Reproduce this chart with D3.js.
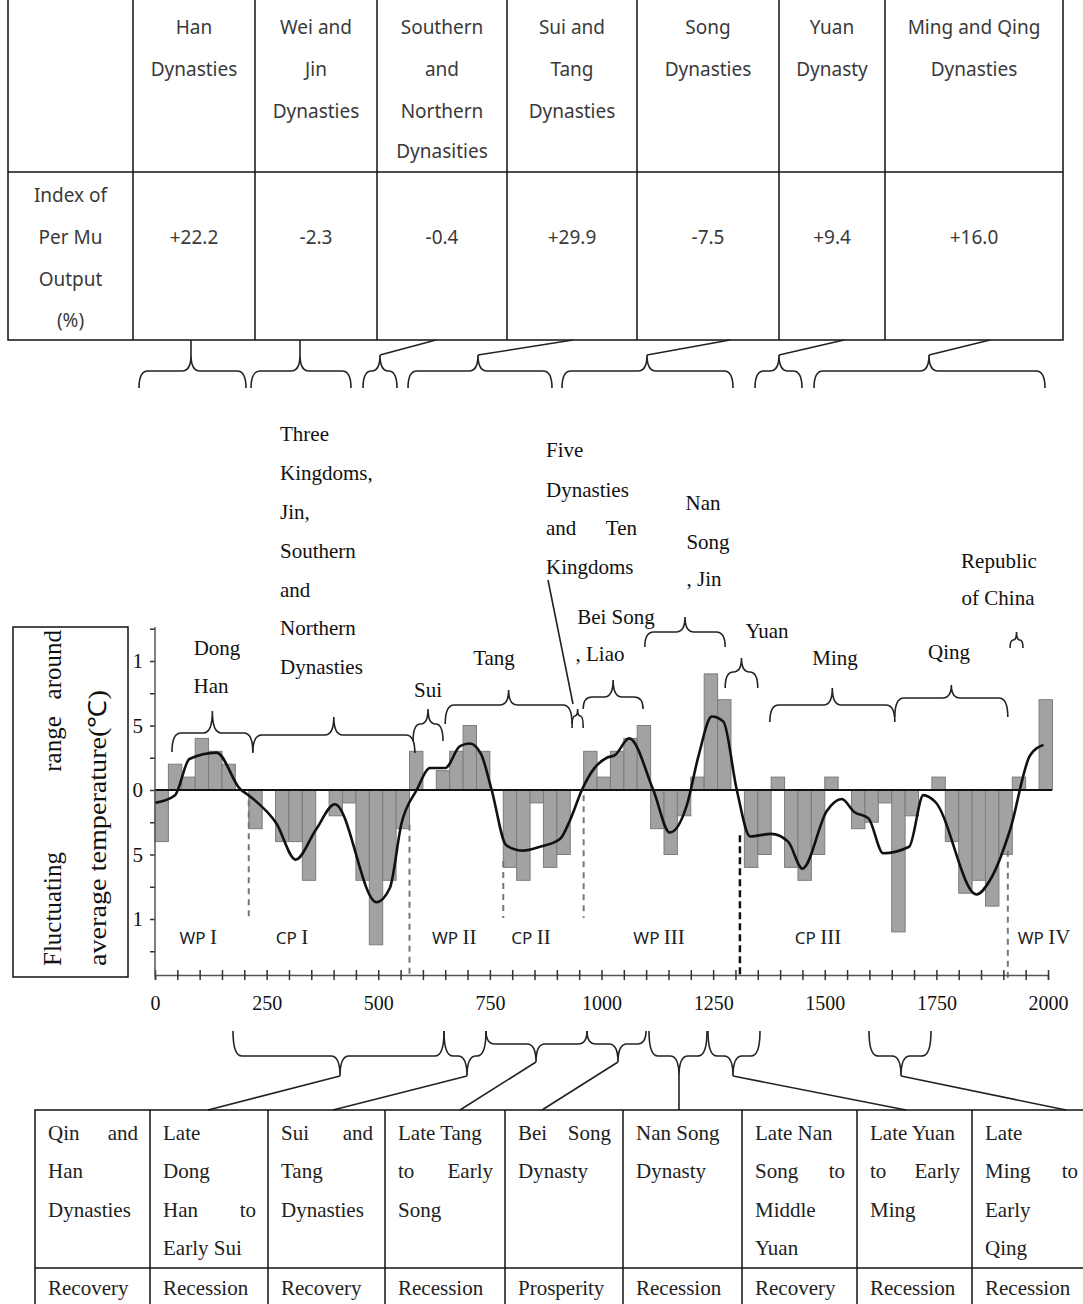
<!DOCTYPE html>
<html><head><meta charset="utf-8">
<script src="https://cdn.jsdelivr.net/npm/d3@7"></script>
<style>body{margin:0;background:#fff}</style>
</head><body>
<svg id="c" width="1083" height="1304"></svg>
<script>
// ---------- DATA ----------
const binStarts = [0,30,60,90,120,150,180,210,240,270,300,330,360,390,420,450,480,510,540,570,600,630,660,690,720,750,780,810,840,870,900,930,960,990,1020,1050,1080,1110,1140,1170,1200,1230,1260,1290,1320,1350,1380,1410,1440,1470,1500,1530,1560,1590,1620,1650,1680,1710,1740,1770,1800,1830,1860,1890,1920,1950,1980];
const barValues = [-0.4,0.2,0.1,0.4,0.3,0.2,0,-0.3,0,-0.4,-0.4,-0.7,0,-0.2,-0.1,-0.7,-1.2,-0.7,-0.3,0.3,0,0.15,0.3,0.5,0.3,0,-0.6,-0.7,-0.1,-0.6,-0.5,0,0.3,0.1,0.3,0.4,0.5,-0.3,-0.5,-0.2,0.1,0.9,0.7,0,-0.6,-0.5,0.1,-0.6,-0.7,-0.5,0.1,0,-0.3,-0.25,-0.1,-1.1,-0.2,0,0.1,-0.4,-0.8,-0.7,-0.9,-0.5,0.1,0,0.7];
const curveYears  = [0,45,77,138,190,213,272,315,360,403,496,526,552,586,616,650,683,705,730,754,787,825,862,907,930,956,982,1012,1030,1062,1116,1153,1191,1217,1247,1273,1303,1333,1380,1418,1450,1505,1538,1566,1598,1631,1689,1721,1747,1840,1870,1915,1960,1990];
const curveValues = [-0.10,-0.04,0.24,0.29,0.01,-0.05,-0.26,-0.54,-0.31,-0.11,-0.87,-0.76,-0.26,0,0.17,0.17,0.34,0.36,0.28,0,-0.43,-0.47,-0.44,-0.38,-0.23,0,0.16,0.25,0.27,0.40,0,-0.33,-0.12,0.26,0.57,0.53,0,-0.36,-0.34,-0.40,-0.61,-0.16,-0.07,-0.17,-0.22,-0.49,-0.44,-0.04,-0.09,-0.81,-0.70,-0.31,0.27,0.35];
const xTickLabels = ["0","250","500","750","1000","1250","1500","1750","2000"];
const yTickValues = [1,0.5,0,-0.5,-1];
const yTickLabels = ["1","5","0","5","1"];
const boundaryYears = [210,570,780,960,1310,1910];
const boundaryTop = [-0.08,-0.27,-0.55,-0.04,-0.35,-0.47];
const periodLabels = [["WP","I"],["CP","I"],["WP","II"],["CP","II"],["WP","III"],["CP","III"],["WP","IV"]];
const periodYears = [97,307,670,842,1129,1485,1991];
const dynastyBraceYears = [[38,219],[219,582],[578,645],[650,934],[934,959],[959,1093],[1097,1277],[1277,1350],[1377,1657],[1657,1910],[1915,1944]];
const topHeaders = [[], ["Han","Dynasties"], ["Wei and","Jin","Dynasties"], ["Southern","and","Northern","Dynasities"], ["Sui and","Tang","Dynasties"], ["Song","Dynasties"], ["Yuan","Dynasty"], ["Ming and Qing","Dynasties"]];
const rowTitle = ["Index of","Per Mu","Output","(%)"];
const perMuIndex = ["+22.2","-2.3","-0.4","+29.9","-7.5","+9.4","+16.0"];
const bottomPeriods = [["Qin|and","Han","Dynasties"],["Late","Dong","Han|to","Early Sui"],["Sui|and","Tang","Dynasties"],["Late Tang","to|Early","Song"],["Bei|Song","Dynasty"],["Nan Song","Dynasty"],["Late Nan","Song|to","Middle","Yuan"],["Late Yuan","to|Early","Ming"],["Late","Ming|to","Early","Qing"]];
const bottomStates = ["Recovery","Recession","Recovery","Recession","Prosperity","Recession","Recovery","Recession","Recession"];

// ---------- SETUP ----------
const svg = d3.select("#c");
const SERIF = "'Liberation Serif','Times New Roman',serif";
const SANS = "'Noto Sans','DejaVu Sans',sans-serif";
const x = d3.scaleLinear().domain([0,2000]).range([155,1048]);
const y = d3.scaleLinear().domain([-1,1]).range([919,661]);

function brace(x1,x2,yBar,yTip,yEnd,xm){
  xm = xm===undefined ? (x1+x2)/2 : xm;
  const r = Math.min(9,(x2-x1)/4);
  const p = d3.path();
  p.moveTo(x1,yEnd);
  p.quadraticCurveTo(x1,yBar,x1+r,yBar);
  p.lineTo(xm-r,yBar);
  p.quadraticCurveTo(xm,yBar,xm,yTip);
  p.quadraticCurveTo(xm,yBar,xm+r,yBar);
  p.lineTo(x2-r,yBar);
  p.quadraticCurveTo(x2,yBar,x2,yEnd);
  return p.toString();
}
function txt(g,t,xx,yy,opt){
  opt=opt||{};
  return g.append("text").attr("x",xx).attr("y",yy)
    .attr("font-family",opt.font||SERIF).attr("font-size",opt.size||21)
    .attr("fill",opt.fill||"#111").attr("text-anchor",opt.anchor||"start").text(t);
}

// ---------- TOP TABLE ----------
const tt = svg.append("g");
const topCols = [8,133,255,377,507,637,779,885,1063];
tt.append("path").attr("d",`M8,0V340H1063V0M8,172H1063`).attr("fill","none").attr("stroke","#111").attr("stroke-width",1.5);
topCols.slice(1,-1).forEach(c=>tt.append("line").attr("x1",c).attr("x2",c).attr("y1",0).attr("y2",340).attr("stroke","#111").attr("stroke-width",1.5));
const headY=[27,69,111,151];
topHeaders.forEach((lines,i)=>{
  const cx=(topCols[i]+topCols[i+1])/2;
  lines.forEach((l,j)=>txt(tt,l,cx,headY[j]+7,{font:SANS,size:19,fill:"#3a3a3a",anchor:"middle"}));
});
const rowY=[195,237,279,320];
rowTitle.forEach((l,j)=>txt(tt,l,(topCols[0]+topCols[1])/2,rowY[j]+7,{font:SANS,size:19,fill:"#3a3a3a",anchor:"middle"}));
perMuIndex.forEach((v,i)=>txt(tt,v,(topCols[i+1]+topCols[i+2])/2,237+7,{font:SANS,size:19,fill:"#3a3a3a",anchor:"middle"}));

// braces below top table
const tb = svg.append("g").attr("fill","none").attr("stroke","#222").attr("stroke-width",1.6);
const topBraces = [[139,246,191,191,340],[251,351,300,300,340],[363,397,380,436,340],[408,552,478,573,340],[562,733,647,730,340],[755,802,779,844,340],[814,1045,929,990,340]];
topBraces.forEach(b=>{
  tb.append("path").attr("d",brace(b[0],b[1],371,355,388,b[2]));
  tb.append("path").attr("d",`M${b[2]},355L${b[3]},${b[4]}`);
});

// ---------- CHART ----------
const ch = svg.append("g");
// bars
ch.append("g").selectAll("rect")
  .data(binStarts.map((s,i)=>({s,v:barValues[i]})).filter(d=>d.v!==0))
  .join("rect")
  .attr("x",d=>x(d.s)).attr("width",d=>x(d.s+30)-x(d.s))
  .attr("y",d=>y(Math.max(0,d.v))).attr("height",d=>Math.abs(y(d.v)-y(0)))
  .attr("fill","#a2a2a2").attr("stroke","#7c7c7c").attr("stroke-width",1);
// zero line
ch.append("line").attr("x1",x(0)).attr("x2",x(2000)+4).attr("y1",y(0)).attr("y2",y(0)).attr("stroke","#111").attr("stroke-width",2);
// curve
ch.append("path").datum(curveYears.map((yr,i)=>[yr,curveValues[i]]))
  .attr("d",d3.line().x(d=>x(d[0])).y(d=>y(d[1])).curve(d3.curveMonotoneX))
  .attr("fill","none").attr("stroke","#111").attr("stroke-width",2.6).attr("stroke-linejoin","round");
// boundaries
boundaryYears.forEach((yr,i)=>{
  const bold = yr===1310;
  ch.append("line").attr("x1",x(yr)).attr("x2",x(yr)).attr("y1",y(boundaryTop[i]))
    .attr("y2", (yr===210||yr===780||yr===960)?918:978)
    .attr("stroke",bold?"#111":"#777").attr("stroke-width",bold?2.5:2).attr("stroke-dasharray",bold?"7,4":"6,5");
});
// period labels
periodLabels.forEach((p,i)=>{
  const t = ch.append("text").attr("x",x(periodYears[i])).attr("y",944).attr("text-anchor","middle").attr("fill","#222");
  t.append("tspan").attr("font-family",SANS).attr("font-size",17).text(p[0]+" ");
  t.append("tspan").attr("font-family",SERIF).attr("font-size",21).text(p[1]);
});
// axes
const xa = ch.append("g").attr("transform","translate(0,975)")
  .call(d3.axisBottom(x).tickValues(d3.range(0,2001,50)).tickSize(5)
    .tickFormat(d=> d%250===0 ? xTickLabels[d/250] : ""));
xa.select(".domain").attr("stroke","#555").attr("stroke-width",1.5);
xa.selectAll(".tick line").attr("stroke","#333").attr("stroke-width",1.5).attr("y1",-5);
xa.selectAll(".tick text").attr("font-family",SERIF).attr("font-size",20).attr("fill","#111").attr("dy","1.35em");
const ya = ch.append("g").attr("transform","translate(155,0)")
  .call(d3.axisLeft(y).tickValues([1.25,1,0.75,0.5,0.25,0,-0.25,-0.5,-0.75,-1,-1.25]).tickSize(5)
    .tickFormat(d=>{const k=yTickValues.indexOf(d);return k>=0?yTickLabels[k]:"";}));
ya.select(".domain").remove();
ya.selectAll(".tick line").attr("stroke","#333").attr("stroke-width",1.5);
ya.selectAll(".tick text").attr("font-family",SERIF).attr("font-size",21).attr("fill","#111").attr("x",-12);
ch.append("line").attr("x1",155).attr("x2",155).attr("y1",627).attr("y2",977).attr("stroke","#555").attr("stroke-width",1.5);

// y label box
ch.append("rect").attr("x",13).attr("y",627).attr("width",115).attr("height",350).attr("fill","#fff").attr("stroke","#111").attr("stroke-width",1.5);
const yl = ch.append("g").attr("font-family",SERIF).attr("font-size",25).attr("fill","#111");
yl.append("text").attr("transform","translate(61,966) rotate(-90)").attr("text-anchor","start").text("Fluctuating");
yl.append("text").attr("transform","translate(61,744) rotate(-90)").attr("text-anchor","middle").text("range");
yl.append("text").attr("transform","translate(61,630) rotate(-90)").attr("text-anchor","end").text("around");
yl.append("text").attr("transform","translate(106,966) rotate(-90)").attr("text-anchor","start")
  .attr("textLength",276).attr("lengthAdjust","spacingAndGlyphs").text("average temperature(℃)");

// dynasty braces in chart
const braceLayout = [[733,711,752],[735,717,753],[724,709,741],[705,690,724],[716,709,728],[697,680,709],[632,617,647],[672,658,688],[705,688,722],[698,685,717],[640,632,648]];
const db = ch.append("g").attr("fill","none").attr("stroke","#222").attr("stroke-width",1.6);
dynastyBraceYears.forEach((r,i)=>{
  const L=braceLayout[i];
  db.append("path").attr("d",brace(x(r[0]),x(r[1]),L[0],L[1],L[2]));
});
db.append("path").attr("d","M548,580L573,704");

// dynasty labels
const dl = ch.append("g");
const labelsMid = [["Dong",217,648],["Han",211,686],["Sui",428,690],["Tang",494,658],["Bei Song",616,617],[", Liao",600,654],["Nan",703,503],["Song",708,542],[", Jin",704,579],["Yuan",767,631],["Ming",835,658],["Qing",949,652],["Republic",999,561],["of China",998,598]];
labelsMid.forEach(l=>txt(dl,l[0],l[1],l[2]+7,{anchor:"middle"}));
const labelsLeft = [["Three",280,434],["Kingdoms,",280,473],["Jin,",280,512],["Southern",280,551],["and",280,590],["Northern",280,628],["Dynasties",280,667],["Five",546,450],["Dynasties",546,490],["and",546,528],["Kingdoms",546,567]];
labelsLeft.forEach(l=>txt(dl,l[0],l[1],l[2]+7));
txt(dl,"Ten",637,528+7,{anchor:"end"});

// ---------- BOTTOM BRACES ----------
const bb = svg.append("g").attr("fill","none").attr("stroke","#222").attr("stroke-width",1.6);
const botBraces = [[233,444,340,1056,1076,208],[444,486,467,1056,1076,333],[486,587,536,1044,1062,460],[587,646,618,1044,1062,542],[649,707,679,1056,1076,679],[708,760,733,1056,1076,906],[869,931,901,1056,1076,1066]];
botBraces.forEach(b=>{
  bb.append("path").attr("d",brace(b[0],b[1],b[3],b[4],1031,b[2]));
  bb.append("path").attr("d",`M${b[2]},${b[4]}L${b[5]},1110`);
});

// ---------- BOTTOM TABLE ----------
const bt = svg.append("g");
const botCols = [35,150,268,385,505,623,742,857,972,1090];
bt.append("path").attr("d","M35,1304V1110H1083M35,1268H1083").attr("fill","none").attr("stroke","#111").attr("stroke-width",1.5);
botCols.slice(1,-1).forEach(c=>bt.append("line").attr("x1",c).attr("x2",c).attr("y1",1110).attr("y2",1304).attr("stroke","#111").attr("stroke-width",1.5));
const lineY=[1133,1171,1210,1248];
bottomPeriods.forEach((lines,i)=>{
  const lx=botCols[i]+13, rx=botCols[i+1]-12;
  lines.forEach((l,j)=>{
    if(l.includes("|")){
      const [a,b]=l.split("|");
      txt(bt,a,lx,lineY[j]+7,{size:21,fill:"#222"});
      txt(bt,b,rx,lineY[j]+7,{size:21,fill:"#222",anchor:"end"});
    } else txt(bt,l,lx,lineY[j]+7,{size:21,fill:"#222"});
  });
  txt(bt,bottomStates[i],lx,1288+7,{size:21,fill:"#222"});
});
</script>
</body></html>
